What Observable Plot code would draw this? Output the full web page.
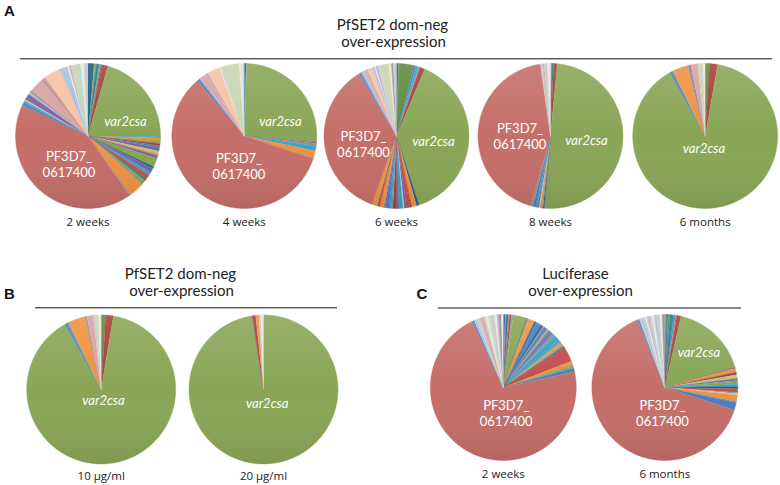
<!DOCTYPE html>
<html><head><meta charset="utf-8">
<script src="https://cdn.jsdelivr.net/npm/d3@7"></script>
<script src="https://cdn.jsdelivr.net/npm/@observablehq/plot@0.6"></script>
<style>
  html,body{margin:0;padding:0;background:#fff;}
  #chart{width:780px;height:485px;}
</style>
</head><body><div id="chart"></div>
<script>
// ---------- DATA (relative shares of var transcripts, read clockwise from 12 o'clock) ----------
// Panel A: PfSET2 dom-neg over-expression
const A_captions = ["2 weeks", "4 weeks", "6 weeks", "8 weeks", "6 months"];

const A1_shares = [5,1.5,2.5,1,1,5, 74, 1.5,2.5,2,1.5,1.5,3,2,1.5,2.5,7,1.5,3.5,2.5,4,1.5,2.5,1.5, 12,1, 150,
  2,2,1,5,2,1.5,11.5,1.5,2,12,1.5,6,1.5,1.5,6,1.5,3,3];
const A1_keys = ["DB","G","DA","GR","DG","DR", "V", "A","O","G","DR","B","P","LGN","O","P","G","DB","P","A","RR","DA","G","GR", "O","GR", "R",
  "B","A","LO","P","LP","GR","PK","GR","LR","PE","LO","LB","PL","LP","LG","LA","PL","LGR"];

const A2_shares = [1.5,0.5, 93, 1,2,4,6, 212, 2,1.5,4,1.5,1,10,1,1,14,3,1];
const A2_keys = ["DB","GR", "V", "P","GR","A","O", "R", "B","LP","PK","LP","LR","PE","PL","LGR","LG","PL","LA"];

const A3_shares = [1.5,0.5,12,2,2,1,4, 139, 2,4,1,3,2,1,3,2,3,1,2,2,1.5,1,3,2,1,3.5, 129,
  1.5,1,2,1,2,4,2,1,1.5,1,8,2,1.5,2.5];
const A3_keys = ["DB","GR","DG","B","A","GR","DR", "V", "DB","O","DR","RR","P","LGR","A","B","DR","GR","A","B","P","GR","O","RR","G","O", "R",
  "B","GR","LB","LP","PK","PE","LB","PL","LP","LGR","LG","PL","GR","LGR"];

const A4_shares = [1,1.5,3, 179.5, 1,1,1.5,1,1,1.5,2,2, 156, 2,1,2.5,2.5];
const A4_keys = ["GR","DA","DR", "V", "DB","GR","O","LGR","P","A","B","GR", "R", "LGR","PK","LGR","PL"];

const A5_shares = [3.5,6.5, 321, 2,1,12,1.5,1,5.5,1.5,3,1.5];
const A5_keys = ["DG","DR", "V", "B","GR","O","GR","P","PK","LGR","LG","PL"];

// Panel B: PfSET2 dom-neg over-expression, drug concentration
const B_captions = ["10 \u00b5g/ml", "20 \u00b5g/ml"];
const B1_shares = [3.5,6, 321.5, 2,1.5,13,1.5,5,1.5,2.5,2];
const B1_keys = ["DG","DR", "V", "B","GR","O","GR","PK","LGR","LG","PL"];
const B2_shares = [351, 0.5,2.5,2.5,1.5,2];
const B2_keys = ["V", "P","DR","O","LGR","PL"];

// Panel C: Luciferase over-expression
const C_captions = ["2 weeks", "6 months"];
const C1_shares = [1.5,1,1.5,1,1.5,1.5, 10,1.5,1,5,1.5,4,2,1,3,1,1,2.5,1.5,1.5,3,1,3,1,2,1.5,1, 12,3,1,1.5,3, 257.5,
  1.5,2,1,2,3,1.5,2,2,3,2,1.5,2,1.5];
const C1_keys = ["DB","GR","DB","GR","DR","GR", "G","DG","GR","O","DB","B","DB","GR","B","O","GR","B","P","GR","A","DA","A","GR","O","GR","DB", "RR","O","GR","G","B", "R",
  "B","LB","LA","LGR","PK","LGR","PL","LG","LGR","PL","LP","GR","PL"];
const C2_shares = [1.5,1,1.5,3,1.5,1,3.5, 61, 1,3,2,3,1.5,1,2,2,1.5,3,1,1,5,1,6, 230,
  1.5,1,2,2,1.5,1.5,2,2,2,2.5,2,2];
const C2_keys = ["GR","DB","DG","DA","B","GR","DR", "V", "P","O","DR","LGN","P","GR","G","A","DB","RR","GR","LGR","O","GR","B", "R",
  "B","LGR","LB","LGR","PL","LP","LGR","PL","LB","LGR","PL","GR"];

const headerA = ["PfSET2 dom-neg", "over-expression"];
const headerB = ["PfSET2 dom-neg", "over-expression"];
const headerC = ["Luciferase", "over-expression"];

// ---------- STYLE ----------
const palette = {
  V: "#89a657", R: "#c56e6a", G: "#86a552", DG: "#5f8a3c", RR: "#c0504d", DR: "#a63f3b",
  B: "#4a7ebb", DB: "#1f5c8f", P: "#7b64a0", A: "#35a6c9", DA: "#267a91", O: "#ef9140",
  GR: "#8f8f8f", LB: "#a9c0dd", LP: "#b8aacf", PK: "#d8a3a1", PE: "#f4c3a3", LG: "#c6d6b3",
  LA: "#a5d3df", PL: "#e7e5dd", LGR: "#c7c7c7", LO: "#f6b88a", LR: "#d88e8b", LGN: "#b0c887"
};

// ---------- LAYOUT ----------
const pies = [
  {shares: A1_shares, keys: A1_keys, cx: 87.5, cy: 135.5, r: 72.5, caption: A_captions[0], capY: 222,
   labels: [["var2csa",125,121,true],["PF3D7_",68.5,156,false],["0617400",68.5,172,false]]},
  {shares: A2_shares, keys: A2_keys, cx: 243.8, cy: 135.5, r: 72.5, caption: A_captions[1], capY: 222,
   labels: [["var2csa",280,121,true],["PF3D7_",238.5,158,false],["0617400",238.5,174,false]]},
  {shares: A3_shares, keys: A3_keys, cx: 396, cy: 135.5, r: 72.5, caption: A_captions[2], capY: 222,
   labels: [["var2csa",433,141,true],["PF3D7_",363,136,false],["0617400",363,152,false]]},
  {shares: A4_shares, keys: A4_keys, cx: 550, cy: 135.5, r: 72.5, caption: A_captions[3], capY: 222,
   labels: [["var2csa",586,140,true],["PF3D7_",519.5,128,false],["0617400",519.5,144,false]]},
  {shares: A5_shares, keys: A5_keys, cx: 704.7, cy: 135.5, r: 72.5, caption: A_captions[4], capY: 222,
   labels: [["var2csa",703.5,148.7,true]]},
  {shares: B1_shares, keys: B1_keys, cx: 100.7, cy: 389, r: 74.5, caption: B_captions[0], capY: 475.5,
   labels: [["var2csa",103,400.7,true]]},
  {shares: B2_shares, keys: B2_keys, cx: 263, cy: 389, r: 74.5, caption: B_captions[1], capY: 475.5,
   labels: [["var2csa",266.7,403,true]]},
  {shares: C1_shares, keys: C1_keys, cx: 502.8, cy: 387, r: 73, caption: C_captions[0], capY: 474,
   labels: [["PF3D7_",505.7,405,false],["0617400",505.7,421,false]]},
  {shares: C2_shares, keys: C2_keys, cx: 664.3, cy: 387, r: 73, caption: C_captions[1], capY: 474,
   labels: [["var2csa",698.5,352.7,true],["PF3D7_",662,405.5,false],["0617400",662,421.5,false]]}
];

// Build slice polygons (angles clockwise from 12 o'clock)
const slices = [];
const discs = [];
pies.forEach((p, pi) => {
  const total = d3.sum(p.shares);
  let acc = 0;
  p.shares.forEach((v, i) => {
    const a0 = acc / total * 2 * Math.PI; acc += v; const a1 = acc / total * 2 * Math.PI;
    const id = pi + "-" + i, key = p.keys[i];
    slices.push({id, key, x: p.cx, y: p.cy});
    const n = Math.max(2, Math.ceil((a1 - a0) / (Math.PI / 360)));
    for (let k = 0; k <= n; k++) {
      const a = a0 + (a1 - a0) * k / n;
      slices.push({id, key, x: p.cx + p.r * Math.sin(a), y: p.cy - p.r * Math.cos(a)});
    }
  });
  for (let k = 0; k <= 360; k++) {
    const a = k / 360 * 2 * Math.PI;
    discs.push({pie: pi, x: p.cx + p.r * Math.sin(a), y: p.cy - p.r * Math.cos(a)});
  }
});

const inLabels = pies.flatMap(p => p.labels.map(([text, x, y, italic]) => ({text, x, y, italic})));
const captions = pies.map(p => ({text: p.caption, x: p.cx, y: p.capY}));
const headers = [
  {text: headerA[0], x: 392, y: 24.5}, {text: headerA[1], x: 393, y: 42},
  {text: headerB[0], x: 180, y: 273.5}, {text: headerB[1], x: 181, y: 291},
  {text: headerC[0], x: 575, y: 273.5}, {text: headerC[1], x: 580, y: 291}
];
const letters = [{text: "A", x: 9, y: 11}, {text: "B", x: 9, y: 294}, {text: "C", x: 421.5, y: 294}];
const rules = [{y: 58.3, x1: 20, x2: 772}, {y: 307.3, x1: 35, x2: 337}, {y: 307.5, x1: 438, x2: 741}];

const font = "'Open Sans', 'DejaVu Sans', sans-serif";
const labelFont = "Lato, 'Open Sans', sans-serif";

const chart = Plot.plot({
  width: 780, height: 485, margin: 0,
  x: {domain: [0, 780], range: [0, 780], axis: null},
  y: {domain: [0, 485], range: [0, 485], axis: null},
  color: {type: "ordinal", domain: Object.keys(palette), range: Object.values(palette)},
  style: {fontFamily: font, background: "#fff", color: "#222"},
  marks: [
    Plot.line(slices, {x: "x", y: "y", z: "id", fill: "key", stroke: "key", strokeWidth: 0.4, curve: "linear"}),
    Plot.line(discs, {x: "x", y: "y", z: "pie", fill: "url(#pieShade)", stroke: "none", curve: "linear"}),
    Plot.ruleY(rules, {y: "y", x1: "x1", x2: "x2", stroke: "#111", strokeWidth: 1}),
    Plot.text(headers, {x: "x", y: "y", text: "text", fontSize: 15, fill: "#222", textAnchor: "middle",
      fontFamily: labelFont}),
    Plot.text(letters, {x: "x", y: "y", text: "text", fontSize: 15, fontWeight: "bold", fill: "#111",
      fontFamily: "'Liberation Sans', Arial, sans-serif", textAnchor: "middle"}),
    Plot.text(captions, {x: "x", y: "y", text: "text", fontSize: 11.5, fill: "#222", textAnchor: "middle"}),
    Plot.text(inLabels.filter(d => d.italic), {x: "x", y: "y", text: "text", fontSize: 13, fontStyle: "italic",
      fontFamily: labelFont, fill: "#fff", textAnchor: "middle"}),
    Plot.text(inLabels.filter(d => !d.italic), {x: "x", y: "y", text: "text", fontSize: 13,
      fontFamily: labelFont, fill: "#fff", textAnchor: "middle"})
  ]
});

// gradient used for the soft Excel-like shading of each pie
const defs = d3.select(chart).insert("defs", ":first-child");
const g = defs.append("linearGradient").attr("id", "pieShade").attr("x1", 0).attr("y1", 0).attr("x2", 0).attr("y2", 1);
g.append("stop").attr("offset", "0%").attr("stop-color", "#fff").attr("stop-opacity", 0.12);
g.append("stop").attr("offset", "50%").attr("stop-color", "#fff").attr("stop-opacity", 0);
g.append("stop").attr("offset", "100%").attr("stop-color", "#000").attr("stop-opacity", 0.08);

document.getElementById("chart").appendChild(chart);
</script>
</body></html>
